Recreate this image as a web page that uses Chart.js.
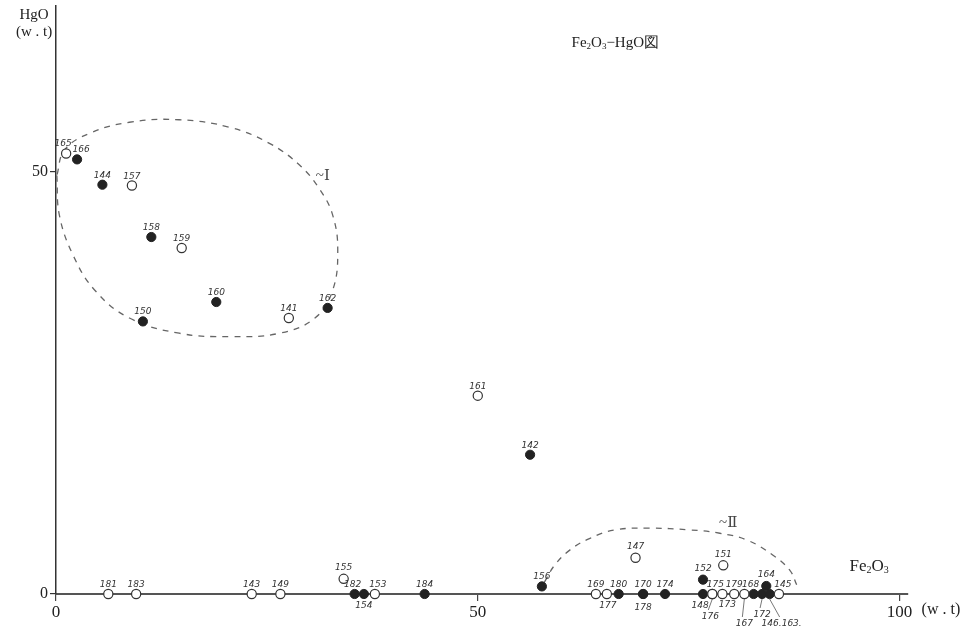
<!DOCTYPE html>
<html>
<head>
<meta charset="utf-8">
<script src="https://cdn.jsdelivr.net/npm/chart.js@4/dist/chart.umd.min.js"></script>
<style>
  html, body { margin: 0; padding: 0; background: #fff; }
  #wrap { width: 971px; height: 630px; position: relative; }
</style>
</head>
<body>
<div id="wrap"><canvas id="c"></canvas></div>
<script>
// 試料番号と組成 (w.t) — 白丸
const openNo = ["165", "157", "159", "141", "161", "181", "183", "143", "149", "155", "153",
  "169", "177", "147", "151", "175", "176", "173", "179", "167", "145"];
const openFe2O3 = [1.2, 9.0, 14.9, 27.6, 50.0, 6.2, 9.5, 23.2, 26.6, 34.1, 37.8,
  64.0, 65.3, 68.7, 79.1, 77.8, 77.8, 79.0, 80.4, 81.6, 85.7];
const openHgO = [52.2, 48.4, 41.0, 32.7, 23.5, 0, 0, 0, 0, 1.8, 0,
  0, 0, 4.3, 3.4, 0, 0, 0, 0, 0, 0];

// 黒丸
const filledNo = ["166", "144", "158", "160", "150", "162", "142", "182", "154", "184", "156",
  "180", "170", "178", "174", "152", "148", "168", "172", "164", "146.163."];
const filledFe2O3 = [2.5, 5.5, 11.3, 19.0, 10.3, 32.2, 56.2, 35.4, 36.5, 43.7, 57.6,
  66.7, 69.6, 69.6, 72.2, 76.7, 76.7, 82.7, 83.7, 84.2, 84.6];
const filledHgO = [51.5, 48.5, 42.3, 34.6, 32.3, 33.9, 16.5, 0, 0, 0, 0.9,
  0, 0, 0, 0, 1.7, 0, 0, 0, 0.95, 0];

// 領域 I, II の境界
const groupIFe2O3 = [0.1, 0.4, 2.0, 4.6, 8.7, 14.6, 20.6, 26.5, 30.7, 32.8, 33.4, 32.8, 31.3, 28.9, 25.3, 20.6, 14.6, 8.7, 4.0, 1.0, 0.1];
const groupIHgO = [49.6, 44.9, 40.2, 36.0, 32.7, 30.9, 30.5, 30.9, 32.7, 36.0, 40.8, 44.9, 47.9, 50.8, 53.4, 55.3, 56.2, 55.9, 54.6, 52.6, 49.6];
const groupIIFe2O3 = [57.9, 59.1, 60.9, 63.3, 66.3, 70.4, 75.1, 78.7, 81.9, 85.0, 87.0, 87.8];
const groupIIHgO = [1.4, 3.4, 5.2, 6.6, 7.6, 7.8, 7.6, 7.2, 6.4, 4.6, 2.8, 1.1];

const xTicks = [0, 50, 100];
const yTicks = [0, 50];

const toXY = (xs, ys) => xs.map((x, i) => ({ x: x, y: ys[i] }));

const serif = '"Liberation Serif", "DejaVu Serif", serif';
const hand = 'italic 9px "DejaVu Sans", sans-serif';

// ラベルの置き方 (指定なしは上)
const labelPos = {
  "165": { dx: -3, dy: -7 },
  "166": { dx: 4, dy: -7 },
  "154": { dx: 0, dy: 14 },
  "182": { dx: -2, dy: -7 },
  "153": { dx: 3, dy: -7 },
  "177": { dx: 1, dy: 14 },
  "178": { dx: 0, dy: 16 },
  "148": { dx: -3, dy: 14 },
  "176": { dx: -2, dy: 25, lead: true },
  "173": { dx: 5, dy: 13 },
  "167": { dx: 0, dy: 32, lead: true },
  "172": { dx: 0, dy: 23, lead: true },
  "146.163.": { dx: 12, dy: 32, lead: true },
  "175": { dx: 3, dy: -7 },
  "164": { dx: 0, dy: -9 },
  "145": { dx: 4, dy: -7 },
  "168": { dx: -3, dy: -7 },
  "152": { dx: 0, dy: -9 },
  "147": { dx: 0, dy: -9 },
  "151": { dx: 0, dy: -8 },
  "155": { dx: 0, dy: -9 }
};

function drawChem(ctx, parts, x, y, size, align) {
  // parts: [text, isSub]
  const subFont = Math.round(size * 0.6) + "px " + serif;
  let w = 0;
  parts.forEach(p => {
    ctx.font = p[1] ? subFont : size + "px " + serif;
    w += ctx.measureText(p[0]).width;
  });
  let cx = align === "center" ? x - w / 2 : x;
  ctx.textAlign = "left";
  ctx.textBaseline = "alphabetic";
  parts.forEach(p => {
    ctx.font = p[1] ? subFont : size + "px " + serif;
    ctx.fillText(p[0], cx, p[1] ? y + size * 0.1 : y);
    cx += ctx.measureText(p[0]).width;
  });
}

const annotations = {
  id: "annotations",
  afterDatasetsDraw(chart) {
    const ctx = chart.ctx;
    const xs = chart.scales.x, ys = chart.scales.y;
    ctx.save();
    ctx.fillStyle = "#333";
    ctx.strokeStyle = "#555";
    ctx.lineWidth = 0.8;
    ctx.font = hand;
    ctx.textAlign = "center";
    ctx.textBaseline = "alphabetic";
    [0, 1].forEach(di => {
      const names = di === 0 ? openNo : filledNo;
      chart.getDatasetMeta(di).data.forEach((el, i) => {
        const p = labelPos[names[i]] || { dx: 0, dy: -7 };
        const tx = el.x + p.dx, ty = el.y + p.dy;
        ctx.fillText(names[i], tx, ty);
        if (p.lead) {
          ctx.beginPath();
          ctx.moveTo(tx - 2, ty - 9);
          ctx.lineTo(el.x, el.y + 5);
          ctx.stroke();
        }
      });
    });

    // 領域名
    ctx.fillStyle = "#444";
    ctx.font = "15px " + serif;
    ctx.textAlign = "left";
    ctx.fillText("~Ⅰ", xs.getPixelForValue(30.8), ys.getPixelForValue(49.0));
    ctx.fillText("~Ⅱ", xs.getPixelForValue(78.6), ys.getPixelForValue(7.9));

    // 表題と軸名
    ctx.fillStyle = "#222";
    drawChem(ctx, [["Fe", 0], ["2", 1], ["O", 0], ["3", 1], ["−HgO図", 0]],
      xs.getPixelForValue(66.3), ys.getPixelForValue(64.8), 15, "center");
    drawChem(ctx, [["Fe", 0], ["2", 1], ["O", 0], ["3", 1]],
      xs.getPixelForValue(96.4), ys.getPixelForValue(2.7), 17, "center");
    ctx.font = "16px " + serif;
    ctx.textAlign = "left";
    ctx.fillText("(w . t)", xs.getPixelForValue(100) + 22, xs.bottom - 16);
    ctx.textAlign = "center";
    ctx.font = "15px " + serif;
    ctx.fillText("HgO", chart.chartArea.left - 22, 19);
    ctx.fillText("(w . t)", chart.chartArea.left - 22, 36);
    ctx.restore();
  }
};

new Chart(document.getElementById("c"), {
  type: "scatter",
  data: {
    datasets: [
      {
        data: toXY(openFe2O3, openHgO),
        clip: false,
        pointRadius: 4.6,
        pointBackgroundColor: "#fff",
        pointBorderColor: "#333",
        pointBorderWidth: 1.2
      },
      {
        data: toXY(filledFe2O3, filledHgO),
        clip: false,
        pointRadius: 4.6,
        pointBackgroundColor: "#222",
        pointBorderColor: "#222",
        pointBorderWidth: 1
      },
      {
        data: toXY(groupIFe2O3, groupIHgO),
        showLine: true,
        pointRadius: 0,
        borderColor: "#666",
        borderWidth: 1.3,
        borderDash: [6, 6],
        tension: 0.4
      },
      {
        data: toXY(groupIIFe2O3, groupIIHgO),
        showLine: true,
        pointRadius: 0,
        borderColor: "#666",
        borderWidth: 1.3,
        borderDash: [6, 6],
        tension: 0.4
      }
    ]
  },
  options: {
    responsive: true,
    maintainAspectRatio: false,
    animation: false,
    layout: { padding: { top: 0, right: 63, left: 0, bottom: 0 } },
    plugins: { legend: { display: false }, tooltip: { enabled: false } },
    scales: {
      x: {
        type: "linear",
        min: 0,
        max: 101,
        afterBuildTicks: s => { s.ticks = xTicks.map(v => ({ value: v })); },
        afterFit: s => { s.height = 36; },
        grid: { drawOnChartArea: false, tickLength: 7, color: "#444", lineWidth: 1.2 },
        border: { color: "#555", width: 2 },
        ticks: { color: "#222", font: { family: serif, size: 17 }, padding: 1, maxRotation: 0 }
      },
      y: {
        type: "linear",
        min: 0,
        max: 69.7,
        afterBuildTicks: s => { s.ticks = yTicks.map(v => ({ value: v })); },
        afterFit: s => { s.width = 56; s.paddingTop = 0; s.paddingBottom = 0; },
        grid: { drawOnChartArea: false, tickLength: 6, color: "#333", lineWidth: 1.2 },
        border: { color: "#333", width: 1.5 },
        ticks: { color: "#222", font: { family: serif, size: 16 }, padding: 2 }
      }
    }
  },
  plugins: [annotations]
});
</script>
</body>
</html>
